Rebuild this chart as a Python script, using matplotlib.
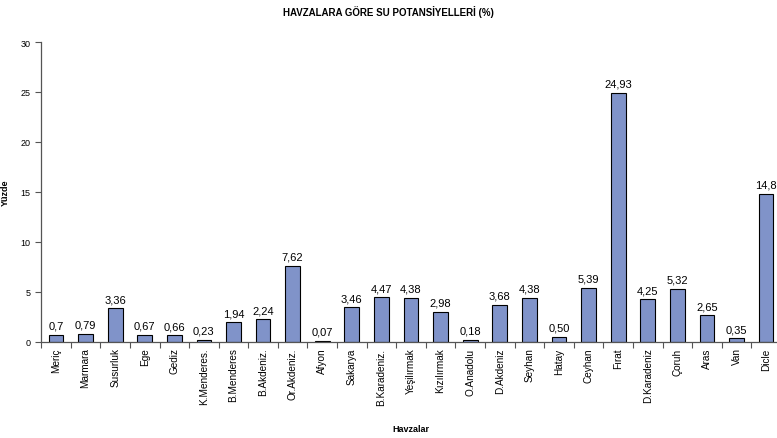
import matplotlib
matplotlib.use('Agg')
import matplotlib.pyplot as plt
import numpy as np

plt.rcParams['font.family'] = ['Liberation Sans', 'DejaVu Sans']

havzalar = ['Meriç', 'Marmara', 'Susurluk', 'Ege', 'Gediz', 'K.Menderes.', 'B.Menderes',
            'B.Akdeniz.', 'Or.Akdeniz.', 'Afyon', 'Sakarya', 'B.Karadeniz.', 'Yeşilırmak',
            'Kızılırmak', 'O.Anadolu', 'D.Akdeniz', 'Seyhan', 'Hatay', 'Ceyhan', 'Fırat',
            'D.Karadeniz', 'Çoruh', 'Aras', 'Van', 'Dicle']
yuzde = [0.7, 0.79, 3.36, 0.67, 0.66, 0.23, 1.94, 2.24, 7.62, 0.07, 3.46, 4.47, 4.38,
         2.98, 0.18, 3.68, 4.38, 0.50, 5.39, 24.93, 4.25, 5.32, 2.65, 0.35, 14.8]
etiketler = ['0,7', '0,79', '3,36', '0,67', '0,66', '0,23', '1,94', '2,24', '7,62', '0,07',
             '3,46', '4,47', '4,38', '2,98', '0,18', '3,68', '4,38', '0,50', '5,39', '24,93',
             '4,25', '5,32', '2,65', '0,35', '14,8']

fig = plt.figure(figsize=(7.77, 4.39), dpi=100)
ax = fig.add_axes([0.053, 0.219, 0.952, 0.683])

x = np.arange(len(havzalar))
ax.bar(x, yuzde, width=0.5, color='#8093C9', edgecolor='black', linewidth=0.8)

# değer etiketleri
for xi, v, t in zip(x, yuzde, etiketler):
    ax.annotate(t, (xi, v), xytext=(0, 3), textcoords='offset points',
                ha='center', va='bottom', fontsize=8)

ax.set_xlim(-0.5, len(havzalar) - 0.5)
ax.set_ylim(0, 30)
ax.set_yticks([0, 5, 10, 15, 20, 25, 30])
ax.tick_params(axis='y', labelsize=6.5, length=4, width=0.8, color='#555555')

# kategori çizgileri aralarda
ax.set_xticks(np.arange(-0.5, len(havzalar), 1))
ax.set_xticklabels([])
ax.set_xticks(x, minor=True)
ax.set_xticklabels(havzalar, minor=True, rotation=90, fontsize=7.2)
ax.tick_params(axis='x', which='minor', length=0, pad=4)
ax.tick_params(axis='x', which='major', length=4, width=0.8, color='#555555')

for s in ['top', 'right']:
    ax.spines[s].set_visible(False)
for s in ['left', 'bottom']:
    ax.spines[s].set_color('#555555')
    ax.spines[s].set_linewidth(0.9)

ax.set_ylabel('Yüzde', fontsize=6.5, fontweight='bold')
ax.yaxis.set_label_coords(-0.042, 0.5)
fig.text(0.529, 0.021, 'Havzalar', ha='center', va='center', fontsize=6.5, fontweight='bold')
fig.text(0.5, 0.972, 'HAVZALARA GÖRE SU POTANSİYELLERİ (%)', ha='center', va='center',
         fontsize=7, fontweight='bold')

fig.savefig('out.png', dpi=100)
